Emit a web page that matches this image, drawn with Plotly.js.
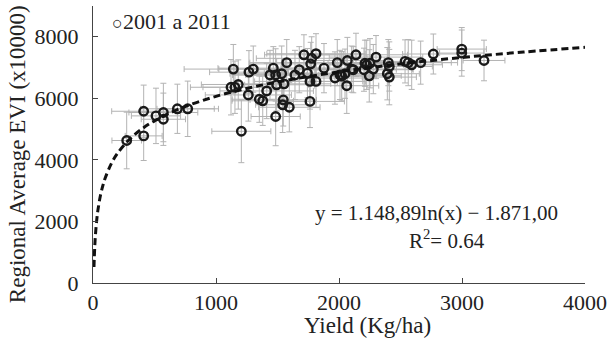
<!DOCTYPE html>
<html>
<head>
<meta charset="utf-8">
<script src="https://cdn.plot.ly/plotly-3.0.1.min.js"></script>
<style>html,body{margin:0;padding:0;background:#fff;}#chart{width:613px;height:343px;}</style>
</head>
<body>
<div id="chart"></div>
<script>
// Observed yield (Kg/ha) and regional average EVI (x10000), 2001 a 2011
const yieldKg = [274,412,412,512,572,572,686,770,1206,1263,1141,1268,1303,1122,1154,1181,1352,1380,1412,1485,1466,1439,1485,1534,1493,1553,1575,1547,1542,1596,1642,1677,1764,1764,1813,1770,1878,1986,1967,2008,2063,1715,1778,1813,1743,2068,2138,2049,2103,2022,2116,2203,2225,2246,2301,2279,2401,2409,2393,2409,2537,2563,2591,2664,2767,2998,2998,3179,2211,2252];
const evi = [4630,5580,4780,5430,5540,5320,5660,5660,4930,6110,6950,6850,6950,6360,6360,6450,5970,5920,6240,5410,6980,6760,6760,6800,6440,6470,7160,5950,5790,5710,6760,6930,5900,6550,6550,7120,6980,7160,6660,6760,6410,7415,7300,7450,6820,7230,7415,6800,6950,6720,6930,6930,7090,6730,7340,6950,7160,7035,6800,6690,7200,7160,7090,7160,7440,7600,7470,7230,7140,7140];
const yieldErr = [120,260,150,200,280,180,300,250,240,350,400,320,280,330,260,300,220,250,380,200,450,300,350,420,260,380,300,270,220,250,400,330,280,450,380,500,350,420,300,380,260,320,450,400,350,300,420,380,330,280,350,400,300,260,380,320,300,350,260,220,300,350,250,300,250,200,180,170,300,280];
const eviErr = [920,850,800,900,950,850,800,900,1020,850,800,700,750,900,850,800,750,800,900,950,700,800,850,900,850,800,750,850,900,800,800,750,850,900,850,700,800,750,850,800,900,650,700,650,800,750,700,800,750,800,750,700,800,850,700,800,750,800,850,900,700,750,800,700,650,700,750,660,750,800];
const xTicks = [0,1000,2000,3000,4000];
const yTicks = [0,2000,4000,6000,8000];
const fitA = 1148.89, fitB = -1871.00;
const fitX = [8,10,15,20,30,40,60,80,100,150,200,300,400,500,700,1000,1300,1600,2000,2500,3000,3500,4000];
const fitY = fitX.map(x => fitA * Math.log(x) + fitB);

const serif = 'Liberation Serif, Times New Roman, serif';
const traces = [
  {
    x: yieldKg, y: evi, type: 'scatter', mode: 'markers', name: '2001 a 2011', showlegend: false,
    marker: {symbol: 'circle-open', size: 8.5, color: '#1a1a1a', line: {width: 2.4, color: '#1a1a1a'}},
    error_x: {type: 'data', array: yieldErr, visible: true, color: '#b3b3b3', thickness: 1, width: 3},
    error_y: {type: 'data', array: eviErr, visible: true, color: '#b3b3b3', thickness: 1, width: 3}
  },
  {
    x: fitX, y: fitY, type: 'scatter', mode: 'lines', showlegend: false,
    line: {color: '#111', width: 3, dash: '7px,4px', shape: 'spline'}
  }
];
const layout = {
  width: 613, height: 343,
  margin: {l: 93, r: 28, t: 6, b: 60},
  paper_bgcolor: '#fff', plot_bgcolor: '#fff',
  font: {family: serif, size: 22, color: '#222'},
  showlegend: false,
  xaxis: {
    range: [0, 4000], tickvals: xTicks, showgrid: false, zeroline: false,
    showline: true, linecolor: '#444', linewidth: 1, ticks: 'inside', ticklen: 5, tickcolor: '#444',
    tickfont: {size: 22}
  },
  yaxis: {
    range: [0, 9000], tickvals: yTicks, showgrid: false, zeroline: false,
    showline: true, linecolor: '#444', linewidth: 1, ticks: 'inside', ticklen: 5, tickcolor: '#444',
    tickfont: {size: 22}, ticklabelstandoff: 9
  },
  annotations: [
    {xref: 'paper', yref: 'paper', x: 0.557, y: -0.152, text: 'Yield (Kg/ha)', showarrow: false, xanchor: 'center', yanchor: 'middle', font: {size: 23}},
    {xref: 'paper', yref: 'paper', x: -0.152, y: 0.466, text: 'Regional Average EVI (x10000)', showarrow: false, textangle: -90, xanchor: 'center', yanchor: 'middle', font: {size: 23}},
    {xref: 'paper', yref: 'paper', x: 0.035, y: 0.945, text: '<span style="font-size:18px">○</span>2001 a 2011', showarrow: false, xanchor: 'left', yanchor: 'middle', font: {size: 22}},
    {x: 1789, y: 2276, xref: 'x', yref: 'y', text: 'y = 1.148,89ln(x) − 1.871,00', showarrow: false, xanchor: 'left', yanchor: 'middle', font: {size: 21}},
    {x: 2878, y: 1398, xref: 'x', yref: 'y', text: 'R<sup>2</sup>= 0.64', showarrow: false, xanchor: 'center', yanchor: 'middle', font: {size: 21}}
  ]
};
Plotly.newPlot('chart', traces, layout, {displayModeBar: false, staticPlot: true});
</script>
</body>
</html>
